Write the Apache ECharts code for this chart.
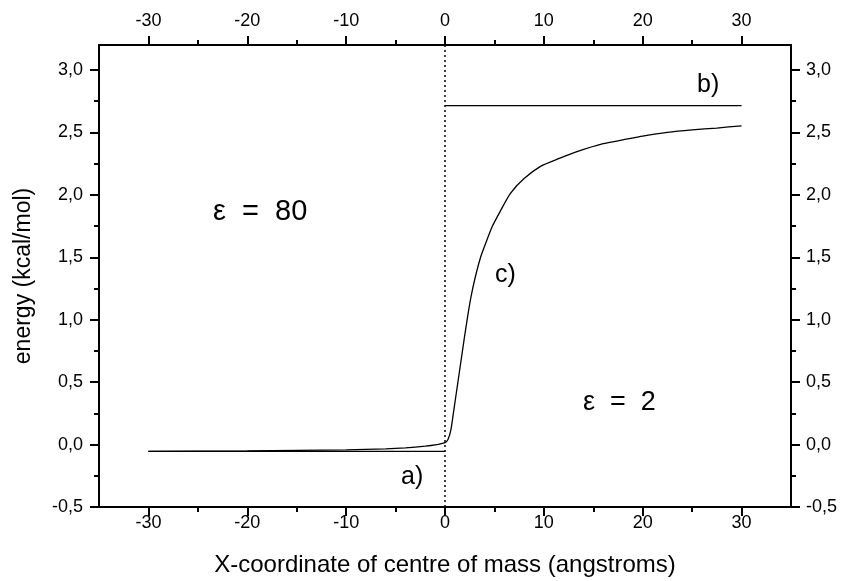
<!DOCTYPE html>
<html><head><meta charset="utf-8">
<script src="https://cdn.jsdelivr.net/npm/echarts@6/dist/echarts.min.js"></script>
<style>html,body{margin:0;padding:0;background:#fff}#c{width:841px;height:581px}</style>
</head><body><div id="c"></div>
<script>
// ---- data ----
const xTicks = [-30, -20, -10, 0, 10, 20, 30];
const xMinorTicks = [-25, -15, -5, 5, 15, 25];
const yTicks = [-0.5, 0, 0.5, 1, 1.5, 2, 2.5, 3];
const yMinorTicks = [-0.25, 0.25, 0.75, 1.25, 1.75, 2.25, 2.75];

// curve c)
const curveCX = [-30, -20, -10, -6, -4, -2, -1, 0, 0.3, 0.6, 0.9, 1.25, 1.6, 1.95, 2.3, 2.6, 3.0, 3.6, 4.2, 4.8, 5.6, 6.6, 8.0, 9.7, 11.5, 13.5, 16, 18, 20, 22.5, 25, 27.5, 30];
const curveCY = [-0.054, -0.05, -0.043, -0.034, -0.026, -0.013, -0.003, 0.016, 0.04, 0.12, 0.28, 0.47, 0.66, 0.85, 1.03, 1.17, 1.32, 1.50, 1.63, 1.75, 1.87, 2.01, 2.13, 2.23, 2.29, 2.35, 2.41, 2.44, 2.47, 2.50, 2.52, 2.535, 2.553];
// line a)
const lineAX = [-30, 0];
const lineAY = [-0.054, -0.054];
// line b)
const lineBX = [0, 30];
const lineBY = [2.714, 2.714];
// dotted boundary at x = 0
const boundaryX = [0, 0];
const boundaryY = [-0.5, 3.2];

const zip = (xs, ys) => xs.map((x, i) => [x, ys[i]]);
const FONT = '"Liberation Sans", Arial, Helvetica, sans-serif';
const fmtY = v => v.toFixed(1).replace('.', ',');
const black = '#000';

function xAxisDef(position, ticks, tickLen, showLine, showLabel, margin, extra) {
  return Object.assign({
    type: 'value', position, min: -35, max: 35,
    splitLine: { show: false },
    axisLine: { show: showLine, onZero: false, lineStyle: { color: black, width: 2 } },
    axisTick: { show: true, inside: false, customValues: ticks, length: tickLen, lineStyle: { color: black, width: 2 } },
    axisLabel: showLabel ? { show: true, customValues: ticks, color: black, fontSize: 18, fontFamily: FONT, margin } : { show: false }
  }, extra || {});
}
function yAxisDef(position, ticks, tickLen, showLine, showLabel, margin, extra) {
  return Object.assign({
    type: 'value', position, min: -0.5, max: 3.2,
    splitLine: { show: false },
    axisLine: { show: showLine, onZero: false, lineStyle: { color: black, width: 2 } },
    axisTick: { show: true, inside: false, customValues: ticks, length: tickLen, lineStyle: { color: black, width: 2 } },
    axisLabel: showLabel ? { show: true, customValues: ticks, formatter: fmtY, color: black, fontSize: 18, fontFamily: FONT, margin } : { show: false }
  }, extra || {});
}

const chart = echarts.init(document.getElementById('c'), null, { renderer: 'canvas' });
const option = {
  animation: false,
  backgroundColor: '#fff',
  grid: { left: 99, right: 50, top: 45, bottom: 74, containLabel: false, outerBoundsMode: 'none' },
  xAxis: [
    xAxisDef('bottom', xTicks, 9, true, true, 7, {
      name: 'X-coordinate of centre of mass (angstroms)', nameLocation: 'middle', nameGap: 46,
      nameTextStyle: { color: black, fontSize: 24, fontFamily: FONT }
    }),
    xAxisDef('top', xTicks, 9, true, true, 15),
    xAxisDef('bottom', xMinorTicks, 5, false, false),
    xAxisDef('top', xMinorTicks, 5, false, false)
  ],
  yAxis: [
    yAxisDef('left', yTicks, 9, true, true, 16, {
      name: 'energy (kcal/mol)', nameLocation: 'middle', nameGap: 64,
      nameTextStyle: { color: black, fontSize: 23, fontFamily: FONT }
    }),
    yAxisDef('right', yTicks, 9, true, true, 15),
    yAxisDef('left', yMinorTicks, 5, false, false),
    yAxisDef('right', yMinorTicks, 5, false, false)
  ],
  series: [
    { type: 'line', data: zip(boundaryX, boundaryY), showSymbol: false, silent: true,
      lineStyle: { color: black, width: 1.5, type: [2, 3] } },
    { type: 'line', data: zip(lineAX, lineAY), showSymbol: false, lineStyle: { color: black, width: 1.3 } },
    { type: 'line', data: zip(lineBX, lineBY), showSymbol: false, lineStyle: { color: black, width: 1.3 } },
    { type: 'line', data: zip(curveCX, curveCY), showSymbol: false, smooth: 0.2, lineStyle: { color: black, width: 1.3 } }
  ],
  graphic: [
    { type: 'text', x: 213, y: 212, style: { text: 'ε  =  80', fill: black, fontSize: 29, fontFamily: FONT, verticalAlign: 'middle' } },
    { type: 'text', x: 583, y: 403, style: { text: 'ε  =  2', fill: black, fontSize: 27, fontFamily: FONT, verticalAlign: 'middle' } },
    { type: 'text', x: 401, y: 477, style: { text: 'a)', fill: black, fontSize: 25, fontFamily: FONT, verticalAlign: 'middle' } },
    { type: 'text', x: 697, y: 85, style: { text: 'b)', fill: black, fontSize: 25, fontFamily: FONT, verticalAlign: 'middle' } },
    { type: 'text', x: 495, y: 275, style: { text: 'c)', fill: black, fontSize: 25, fontFamily: FONT, verticalAlign: 'middle' } }
  ]
};
chart.setOption(option);
</script>
</body></html>
